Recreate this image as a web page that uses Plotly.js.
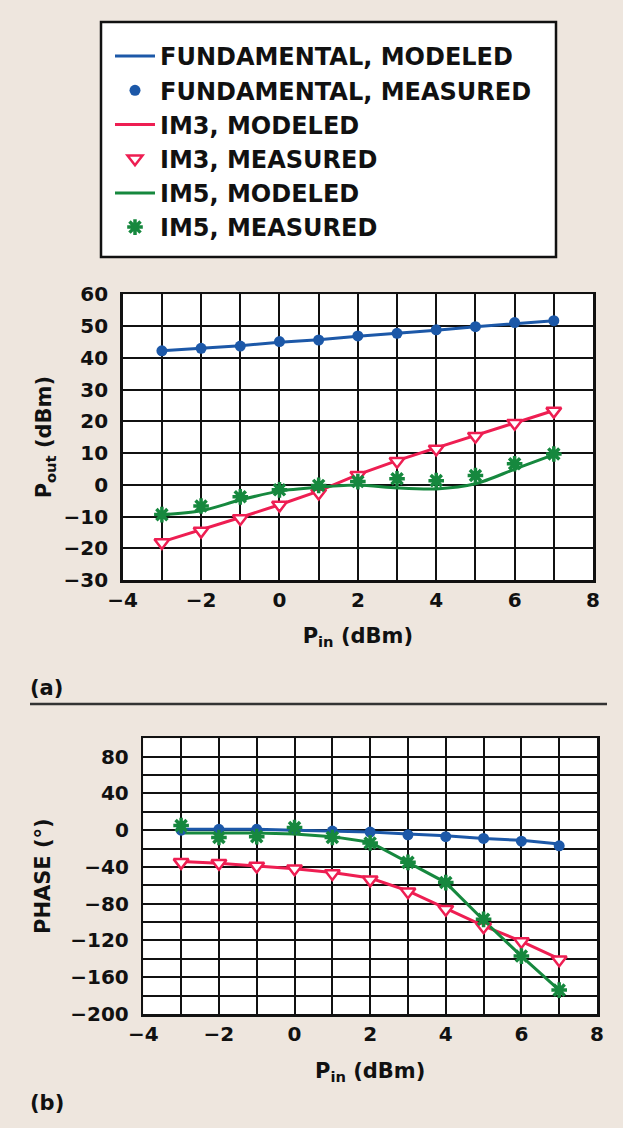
<!DOCTYPE html>
<html>
<head>
<meta charset="utf-8">
<script src="https://cdn.plot.ly/plotly-3.0.1.min.js"></script>
<style>
  html, body { margin: 0; padding: 0; background: #EEE6DE; }
  #chart { width: 623px; height: 1128px; }
</style>
</head>
<body>
<div id="chart"></div>
<script>
// ---- Data ----
const pin = [-3, -2, -1, 0, 1, 2, 3, 4, 5, 6, 7];

// (a) Output power, dBm
const fundModeled  = [42.2, 43.0, 43.8, 44.9, 45.7, 46.8, 47.7, 48.7, 49.8, 50.8, 51.7];
const fundMeasured = [42.2, 43.0, 43.7, 45.1, 45.6, 46.9, 47.7, 48.8, 49.8, 51.1, 51.7];
const im3Modeled   = [-18.0, -14.2, -10.3, -6.3, -2.0, 3.2, 7.6, 11.6, 15.6, 19.6, 23.4];
const im3Measured  = [-18.2, -14.6, -10.6, -6.4, -2.6, 3.0, 7.4, 11.3, 15.3, 19.4, 23.2];
const im5Modeled   = [-9.5, -8.2, -4.8, -2.0, -0.8, -0.1, -1.0, -1.3, 0.3, 4.9, 9.5];
const im5Measured  = [-9.4, -6.7, -3.8, -1.6, -0.2, 1.0, 1.9, 1.3, 2.9, 6.6, 9.7];

// (b) Phase, degrees
const fundPhaseModeled  = [1, 1, 1, 0, -1, -2, -4, -6, -9, -11, -15];
const fundPhaseMeasured = [0, 1, 1, 2, -1, -2, -5, -7, -9, -12, -17];
const im3PhaseModeled   = [-34, -36, -39, -42, -46, -52, -66, -85, -104, -121, -140];
const im3PhaseMeasured  = [-35, -36, -39, -42, -47, -54, -67, -86, -105, -121, -141];
const im5PhaseModeled   = [-3, -3, -3, -4, -7, -13, -35, -57, -98, -137, -174];
const im5PhaseMeasured  = [5, -8, -7, 3, -8, -14, -35, -57, -97, -137, -174];

const seriesNames = [
  'FUNDAMENTAL, MODELED', 'FUNDAMENTAL, MEASURED',
  'IM3, MODELED', 'IM3, MEASURED',
  'IM5, MODELED', 'IM5, MEASURED'
];

// ---- Styles ----
const BLUE = '#1C58A8', RED = '#EE1E52', GREEN = '#16883E';
const FONT = 'DejaVu Sans';

function lineTrace(y, color, name, xa, ya, show, shape) {
  return { x: pin, y: y, type: 'scatter', mode: 'lines', name: name,
    line: { color: color, width: 3, shape: shape || 'linear', smoothing: 0.8 },
    xaxis: xa, yaxis: ya, showlegend: show, hoverinfo: 'skip' };
}
function dotTrace(y, name, xa, ya, show) {
  return { x: pin, y: y, type: 'scatter', mode: 'markers', name: name,
    marker: { color: BLUE, symbol: 'circle', size: 11, line: { width: 0 } },
    xaxis: xa, yaxis: ya, showlegend: show, hoverinfo: 'skip' };
}
function triTrace(y, name, xa, ya, show) {
  return { x: pin, y: y, type: 'scatter', mode: 'markers', name: name,
    marker: { color: 'white', symbol: 'triangle-down', size: 13,
      line: { color: RED, width: 2.5 } },
    xaxis: xa, yaxis: ya, showlegend: show, hoverinfo: 'skip' };
}
function starTrace(y, name, xa, ya, show) {
  return { x: pin, y: y, type: 'scatter', mode: 'markers', name: name,
    marker: { color: GREEN, symbol: 'asterisk-open', size: 13,
      line: { color: GREEN, width: 3.5 } },
    xaxis: xa, yaxis: ya, showlegend: show, hoverinfo: 'skip' };
}

const traces = [
  lineTrace(fundModeled, BLUE, seriesNames[0], 'x', 'y', true),
  dotTrace(fundMeasured, seriesNames[1], 'x', 'y', true),
  lineTrace(im3Modeled, RED, seriesNames[2], 'x', 'y', true),
  triTrace(im3Measured, seriesNames[3], 'x', 'y', true),
  lineTrace(im5Modeled, GREEN, seriesNames[4], 'x', 'y', true, 'spline'),
  starTrace(im5Measured, seriesNames[5], 'x', 'y', true),

  lineTrace(fundPhaseModeled, BLUE, seriesNames[0], 'x2', 'y2', false),
  lineTrace(im3PhaseModeled, RED, seriesNames[2], 'x2', 'y2', false),
  lineTrace(im5PhaseModeled, GREEN, seriesNames[4], 'x2', 'y2', false),
  dotTrace(fundPhaseMeasured, seriesNames[1], 'x2', 'y2', false),
  triTrace(im3PhaseMeasured, seriesNames[3], 'x2', 'y2', false),
  starTrace(im5PhaseMeasured, seriesNames[5], 'x2', 'y2', false)
];

const W = 623, H = 1128;
const px = v => v / W, py = v => 1 - v / H;

const gridCommon = {
  showgrid: true, gridcolor: '#111', gridwidth: 2,
  showline: true, linecolor: '#111', linewidth: 2.5, mirror: true,
  zeroline: false, ticks: '', fixedrange: true,
  tickfont: { family: FONT, size: 20, color: '#111', weight: 'bold' }
};
const titleFont = { family: FONT, size: 21, color: '#111', weight: 'bold' };

const layout = {
  width: W, height: H,
  margin: { l: 0, r: 0, t: 0, b: 0 },
  paper_bgcolor: '#EEE6DE', plot_bgcolor: 'white',
  font: { family: FONT, color: '#111', weight: 'bold' },
  showlegend: true,
  legend: {
    x: px(110), y: py(34), xanchor: 'left', yanchor: 'top',
    bgcolor: 'rgba(0,0,0,0)', borderwidth: 0,
    font: { family: FONT, size: 24, color: '#111', weight: 'bold' },
    itemwidth: 40, tracegroupgap: 0, traceorder: 'normal'
  },
  xaxis: Object.assign({}, gridCommon, {
    domain: [px(122.7), px(593)], range: [-4, 8], anchor: 'y',
    tickmode: 'linear', tick0: -4, dtick: 2,
    minor: { dtick: 1, showgrid: true, gridcolor: '#111', gridwidth: 2 },
    ticklabelstandoff: 0,
    title: { text: 'P<sub>in</sub> (dBm)', font: titleFont, standoff: 18 }
  }),
  yaxis: Object.assign({}, gridCommon, {
    domain: [py(580), py(294.3)], range: [-30, 60], anchor: 'x',
    tickmode: 'linear', tick0: -30, dtick: 10,
    ticklabelstandoff: 8,
    title: { text: 'P<sub>out</sub> (dBm)', font: titleFont, standoff: 6 }
  }),
  xaxis2: Object.assign({}, gridCommon, {
    domain: [px(143.3), px(597)], range: [-4, 8], anchor: 'y2',
    tickmode: 'linear', tick0: -4, dtick: 2,
    minor: { dtick: 1, showgrid: true, gridcolor: '#111', gridwidth: 2 },
    ticklabelstandoff: 0,
    title: { text: 'P<sub>in</sub> (dBm)', font: titleFont, standoff: 19 }
  }),
  yaxis2: Object.assign({}, gridCommon, {
    domain: [py(1014), py(738.3)], range: [-200, 100], anchor: 'x2',
    tickmode: 'linear', tick0: -200, dtick: 40,
    minor: { dtick: 20, showgrid: true, gridcolor: '#111', gridwidth: 2 },
    ticklabelstandoff: 8,
    title: { text: 'PHASE (°)', font: titleFont, standoff: 14 }
  }),
  shapes: [
    // legend frame
    { type: 'rect', xref: 'paper', yref: 'paper', layer: 'below',
      x0: px(101), x1: px(556), y0: py(257), y1: py(22),
      fillcolor: 'white', line: { color: '#111', width: 2.5 } },
    // separator between (a) and (b)
    { type: 'line', xref: 'paper', yref: 'paper',
      x0: px(30), x1: px(607), y0: py(704), y1: py(704),
      line: { color: '#333', width: 2.5 } }
  ],
  annotations: [
    { text: '(a)', xref: 'paper', yref: 'paper', x: px(28), y: py(688),
      xanchor: 'left', yanchor: 'middle', showarrow: false, font: titleFont },
    { text: '(b)', xref: 'paper', yref: 'paper', x: px(28), y: py(1103),
      xanchor: 'left', yanchor: 'middle', showarrow: false, font: titleFont }
  ]
};

Plotly.newPlot('chart', traces, layout, { staticPlot: true, displayModeBar: false });
</script>
</body>
</html>
